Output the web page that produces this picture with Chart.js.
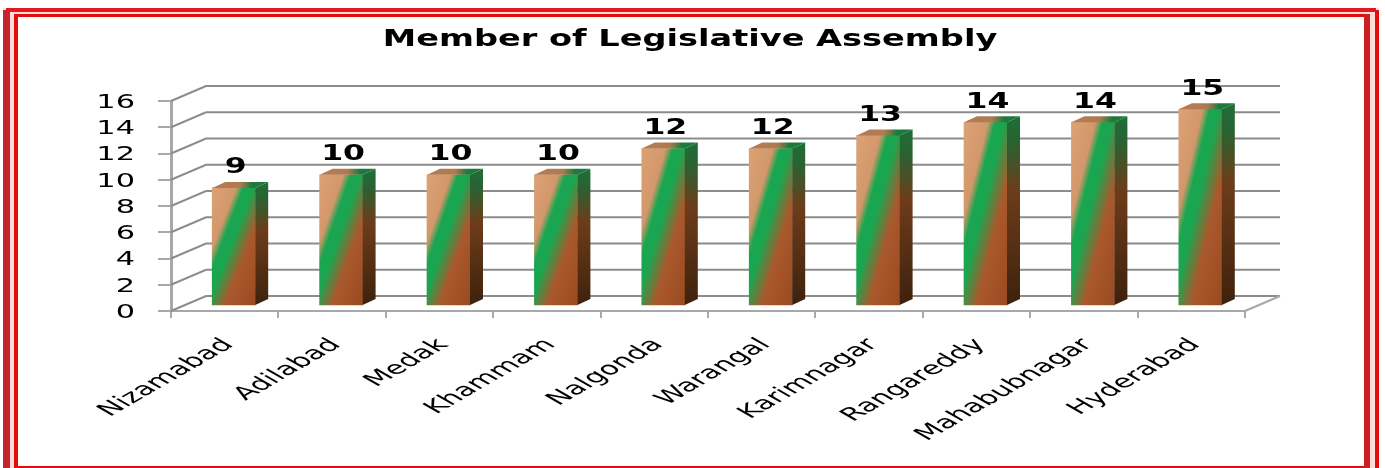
<!DOCTYPE html>
<html>
<head>
<meta charset="utf-8">
<style>
html, body { margin: 0; padding: 0; background: #fff; }
#wrap { width: 1385px; height: 468px; overflow: hidden; }
canvas { filter: blur(0.5px); }
</style>
<script src="https://cdn.jsdelivr.net/npm/chart.js@4"></script>
</head>
<body>
<div id="wrap"><canvas id="assemblyChart" width="1385" height="468"></canvas></div>
<script>
const chartTitle = "Member of Legislative Assembly";
const districts = ["Nizamabad", "Adilabad", "Medak", "Khammam", "Nalgonda", "Warangal", "Karimnagar", "Rangareddy", "Mahabubnagar", "Hyderabad"];
const members = [9, 10, 10, 10, 12, 12, 13, 14, 14, 15];
const yTicks = [0, 2, 4, 6, 8, 10, 12, 14, 16];

const ctx = document.getElementById("assemblyChart").getContext("2d");
const BAR_W = 43;
const WALL = { x: 35, y: -15 };   // back wall offset
const BAR_SHIFT = { x: 9, y: -5 }; // bars stand in the middle of the floor
const SIDE = { x: 13, y: -6 };    // bar depth
const GRID = "#8c8c8c";
const AXIS = "#a8a8a8";

function frontGradient(c) {
    const chart = c.chart;
    if (c.raw === undefined) return "#d69c6c";
    const y = chart.scales.y.getPixelForValue(c.raw);
    const h = chart.scales.y.getPixelForValue(0) - y;
    const x = chart.scales.x.getPixelForValue(c.dataIndex) - BAR_W / 2;
    if (!Number.isFinite(x) || !Number.isFinite(y) || !(h > 0)) return "#d69c6c";
    const len = Math.hypot(h, 46);
    const nx = h / len, ny = 46 / len;
    const L = BAR_W * nx + h * ny;
    const g = chart.ctx.createLinearGradient(x, y, x + nx * L, y + ny * L);
    const d1 = 27 * nx, d2 = 55 * nx;
    g.addColorStop(0, "#dca274");
    g.addColorStop((d1 - 3) / L, "#d2976a");
    g.addColorStop((d1 + 4) / L, "#1aa650");
    g.addColorStop((d1 + 13) / L, "#1aa650");
    g.addColorStop((d2 + 3) / L, "#a9592c");
    g.addColorStop(1, "#9a4a20");
    return g;
}

function stretchedText(c, text, x, y, sx, align, angle) {
    c.save();
    c.translate(x, y);
    c.scale(sx, 1);
    if (angle) c.rotate(angle);
    c.textAlign = align;
    c.textBaseline = "middle";
    c.fillText(text, 0, 0);
    c.restore();
}

const wallPlugin = {
    id: "wall",
    beforeDraw(chart) {
        const c = chart.ctx;
        c.save();
        // red picture frame
        c.fillStyle = "#ffdcd8";
        c.fillRect(3, 8, 1376, 460);
        c.fillStyle = "#fff";
        c.fillRect(18, 17, 1346, 449);
        // outer band
        c.fillStyle = "#c4262e";
        c.fillRect(3, 10, 7, 458);
        c.fillStyle = "#e21a1f";
        c.fillRect(6, 8, 1370, 4);
        c.fillStyle = "#e30d0d";
        c.fillRect(1375, 10, 4, 458);
        // inner band
        c.fillRect(14, 14, 1350, 3);
        c.fillRect(14, 14, 4, 454);
        c.fillRect(14, 466, 1350, 2);
        c.fillStyle = "#cb1f26";
        c.fillRect(1364, 14, 6, 454);
        c.restore();
    },
    beforeDatasetsDraw(chart) {
        const c = chart.ctx, y = chart.scales.y, a = chart.chartArea;
        c.save();
        c.lineWidth = 2;
        yTicks.forEach(v => {
            const py = y.getPixelForValue(v);
            c.strokeStyle = GRID;
            c.beginPath();
            c.moveTo(a.left, py);
            c.lineTo(a.left + WALL.x, py + WALL.y);
            c.lineTo(a.right + WALL.x, py + WALL.y);
            c.stroke();
        });
        const floor = y.getPixelForValue(0);
        c.strokeStyle = AXIS;
        c.beginPath();
        c.moveTo(a.right, floor);
        c.lineTo(a.right + WALL.x, floor + WALL.y);
        c.stroke();
        c.restore();
    },
    beforeDatasetDraw(chart) {
        chart.ctx.save();
        chart.ctx.translate(BAR_SHIFT.x, BAR_SHIFT.y);
    },
    afterDatasetDraw(chart) {
        const c = chart.ctx;
        chart.getDatasetMeta(0).data.forEach(bar => {
            const l = bar.x - BAR_W / 2, r = bar.x + BAR_W / 2, t = bar.y, b = bar.base;
            // right side
            let g = c.createLinearGradient(r, t + SIDE.y, r + SIDE.x, b);
            g.addColorStop(0, "#1c7038");
            g.addColorStop(0.14, "#2a6232");
            g.addColorStop(0.4, "#6d3c1a");
            g.addColorStop(1, "#3d210d");
            c.fillStyle = g;
            c.beginPath();
            c.moveTo(r, t);
            c.lineTo(r + SIDE.x, t + SIDE.y);
            c.lineTo(r + SIDE.x, b + SIDE.y);
            c.lineTo(r, b);
            c.closePath();
            c.fill();
            // top
            g = c.createLinearGradient(l, t, r + SIDE.x, t);
            g.addColorStop(0, "#b57c55");
            g.addColorStop(0.5, "#b07a50");
            g.addColorStop(0.72, "#1c7a3c");
            g.addColorStop(1, "#1c7a3c");
            c.fillStyle = g;
            c.beginPath();
            c.moveTo(l, t);
            c.lineTo(l + SIDE.x, t + SIDE.y);
            c.lineTo(r + SIDE.x, t + SIDE.y);
            c.lineTo(r, t);
            c.closePath();
            c.fill();
        });
        c.restore();
    },
    afterDatasetsDraw(chart) {
        const c = chart.ctx, xs = chart.scales.x, ys = chart.scales.y;
        c.save();
        c.fillStyle = "#000";
        // the whole picture is stretched sideways, so all text is too
        c.font = "bold 23px 'DejaVu Sans'";
        stretchedText(c, chartTitle, 690, 40, 1.46, "center");
        c.font = "bold 21px 'DejaVu Sans'";
        chart.getDatasetMeta(0).data.forEach((bar, i) => {
            stretchedText(c, String(members[i]), bar.x + BAR_SHIFT.x + 2, bar.y + BAR_SHIFT.y - 20, 1.5, "center");
        });
        c.font = "19px 'DejaVu Sans'";
        ys.ticks.forEach((t, i) => {
            stretchedText(c, String(t.value), 135, ys.getPixelForTick(i) + 2, 1.6, "right");
        });
        c.font = "18px 'DejaVu Sans'";
        xs.ticks.forEach((t, i) => {
            stretchedText(c, districts[i], xs.getPixelForTick(i) + 4, 342, 1.74, "right", -Math.PI / 4);
        });
        c.restore();
    }
};

new Chart(ctx, {
    type: "bar",
    data: {
        labels: districts,
        datasets: [{
            data: members,
            backgroundColor: frontGradient,
            borderWidth: 0,
            barThickness: BAR_W
        }]
    },
    options: {
        responsive: false,
        animation: false,
        layout: { padding: { left: 0, right: 140, top: 101, bottom: 0 } },
        plugins: {
            legend: { display: false },
            tooltip: { enabled: false },
            title: { display: false, text: chartTitle }
        },
        scales: {
            x: {
                afterFit(s) { s.height = 157; },
                grid: { drawOnChartArea: false, color: AXIS, lineWidth: 2, tickLength: 7, tickColor: AXIS },
                border: { color: AXIS, width: 2 },
                ticks: { display: false, autoSkip: false }
            },
            y: {
                min: 0,
                max: 16,
                afterFit(s) { s.width = 171; },
                grid: { drawOnChartArea: false, color: AXIS, lineWidth: 2, tickLength: 13, tickColor: AXIS },
                border: { color: AXIS, width: 3 },
                ticks: { display: false, stepSize: 2, autoSkip: false }
            }
        }
    },
    plugins: [wallPlugin]
});
</script>
</body>
</html>
